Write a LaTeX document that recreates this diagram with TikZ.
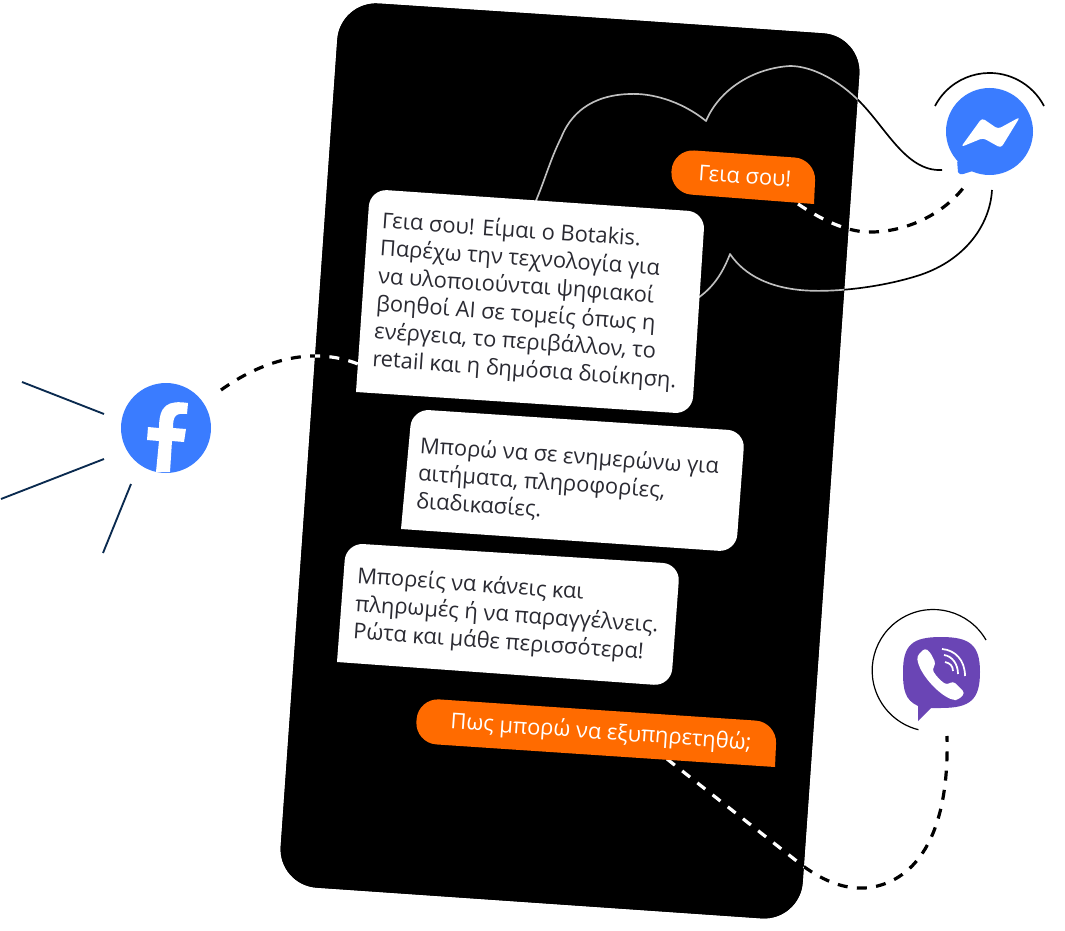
\documentclass[tikz,border=0pt]{standalone}
\usepackage{fontspec}
\usepackage{xcolor}
\usetikzlibrary{calc}
\setmainfont{Open Sans}
\definecolor{orangec}{RGB}{255,107,0}
\definecolor{fbblue}{RGB}{58,124,255}
\definecolor{viberc}{RGB}{106,69,181}
\definecolor{navyc}{RGB}{10,42,79}
\definecolor{textc}{RGB}{42,42,50}
\def\phonepath{(600,18) [rounded corners=29pt] -- (862,36) -- (800,921) -- (278,885) -- (340,1) -- cycle}
\def\solidcurves{(942,170) .. controls (905,172) and (885,125) .. (856,98) .. controls (835,78) and (810,66) .. (790,66) .. controls (755,68) and (720,88) .. (706,121) .. controls (680,100) and (650,93) .. (630,94) .. controls (590,95) and (570,115) .. (561,138) .. controls (550,160) and (545,180) .. (535,203)
  (992,190) .. controls (990,225) and (965,260) .. (920,275) .. controls (880,288) and (830,293) .. (800,290) .. controls (770,287) and (745,276) .. (730,254) .. controls (722,275) and (712,288) .. (698,298)}
\def\dashcurves{(798,204) .. controls (825,222) and (850,233) .. (873,232) .. controls (910,231) and (945,212) .. (964,187)
  (221,390) .. controls (260,362) and (310,345) .. (358,364)
  (667,759) -- (803,866) .. controls (825,882) and (845,889) .. (865,888) .. controls (905,885) and (950,850) .. (947,736)}

\begin{document}
\begin{tikzpicture}[x=0.75pt, y=-0.75pt, line join=round,
  chattext/.style={inner sep=0pt, text=textc, rotate=-4, align=left, anchor=west, font=\fontsize{16.4pt}{20.8pt}\selectfont},
  ordertext/.style={inner sep=0pt, text=white, rotate=-4, font=\fontsize{16.4pt}{20.8pt}\selectfont},
  solidline/.style={line width=1.25pt},
  dashline/.style={line width=2.4pt, dash pattern=on 7.5pt off 7pt},
  rayline/.style={navyc, line width=1.4pt},
  signal/.style={white, line width=1.3pt}]

\useasboundingbox (0,0) rectangle (1065,931);

%% ── phone body ───────────────────────────────────────────────────
\fill[black] \phonepath;

%% ── curves, black outside the phone, light inside ────────────────
\draw[solidline, black] \solidcurves;
\draw[dashline, black] \dashcurves;
\begin{scope}
  \clip \phonepath;
  \fill[black] (270,0) rectangle (870,931);
  \draw[solidline, black!25] \solidcurves;
  \draw[dashline, white] \dashcurves;
\end{scope}

%% ── white chat bubbles ───────────────────────────────────────────
\fill[white] (356,392) [rounded corners=13pt] -- (370,189) -- (705,212) -- (692,414) [sharp corners] -- cycle;
\fill[white] (401,529) [rounded corners=13pt] -- (412,409) -- (745,431) -- (736,552) [sharp corners] -- cycle;
\fill[white] (337,662) [rounded corners=13pt] -- (346,543) -- (680,564) -- (671,686) [sharp corners] -- cycle;

%% ── orange chat bubbles ──────────────────────────────────────────
\fill[orangec] (814,204) [rounded corners=16pt] -- (670,193) -- (673,149) -- (816,159) [sharp corners] -- cycle;
\fill[orangec] (775,767) [rounded corners=16pt] -- (415,743) -- (418,698) -- (777,722) [sharp corners] -- cycle;

%% ── bubble texts ─────────────────────────────────────────────────
\node[chattext] (hello) at (377,291) {Γεια σου! Είμαι ο Botakis.\\Παρέχω την τεχνολογία για\\να υλοποιούνται ψηφιακοί\\βοηθοί AI σε τομείς όπως η\\ενέργεια, το περιβάλλον, το\\retail και η δημόσια διοίκηση.};
\node[chattext] (inform) at (418,474) {Μπορώ να σε ενημερώνω για\\αιτήματα, πληροφορίες,\\διαδικασίες.};
\node[chattext] (payment) at (355,605) {Μπορείς να κάνεις και\\πληρωμές ή να παραγγέλνεις.\\Ρώτα και μάθε περισσότερα!};
\node[ordertext] (greet) at (745,176) {Γεια σου!};
\node[ordertext] (ask) at (601,733) {Πως μπορώ να εξυπηρετηθώ;};

%% ── facebook ─────────────────────────────────────────────────────
\fill[fbblue] (166,428) circle (45);
\fill[white] (156,472) -- (159,441) -- (147,440) -- (148,427) -- (159,428) .. controls (159,405) and (168,400) .. (188,403) -- (187,414) .. controls (176,413) and (173,415) .. (173,428) -- (186,429) -- (184,442) -- (172,441) -- (170,472) -- cycle;
\draw[rayline] (22,382) -- (104,414);
\draw[rayline] (1,499) -- (104,459);
\draw[rayline] (103,553) -- (131,484);

%% ── messenger ────────────────────────────────────────────────────
\fill[fbblue] (989.5,131.5) circle (43.5);
\fill[fbblue] (957,160) -- (958,172) [rounded corners=2pt] -- (960,175) -- (976,170) -- cycle;
\fill[white, rounded corners=2.5pt] (961,147) -- (982,118) -- (998,129) -- (1020,117) -- (1001,148) -- (983,138) -- cycle;
\draw[solidline] (935,106) arc[start angle=207.6, end angle=332.4, radius=61.5];

%% ── viber ────────────────────────────────────────────────────────
\draw[line width=0.9pt] (986,640) arc[start angle=-30, end angle=-256, radius=61];
\fill[viberc] (941,637) .. controls (970,637) and (980,645) .. (980,672) .. controls (980,700) and (970,708) .. (941,708) -- (931,708) -- (918,721) -- (918,706) .. controls (905,700) and (903,690) .. (903,672) .. controls (903,645) and (912,637) .. (941,637) -- cycle;
\fill[white, rounded corners=2.5pt] (925,648) -- (917,656) .. controls (919,673) and (937,693) .. (953,700) -- (958,700) -- (965,693) -- (953,681) -- (947,685) .. controls (941,681) and (936,676) .. (932,669) -- (936,664) -- (930,652) -- cycle;
\draw[signal] (942,649) .. controls (955,650) and (965,660) .. (965,676);
\draw[signal] (944,655) .. controls (952,656) and (958,664) .. (958,674);
\draw[signal] (945,662) .. controls (950,663) and (953,666) .. (953,671);

\end{tikzpicture}
\end{document}
